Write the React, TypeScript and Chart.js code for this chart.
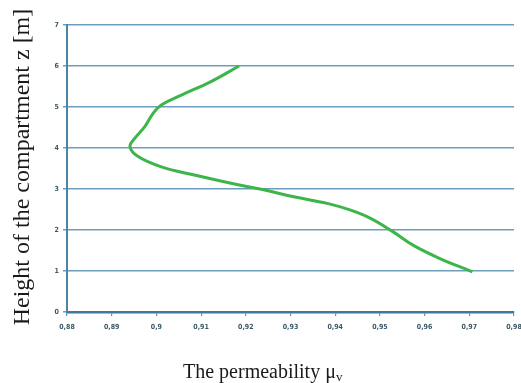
import React, { useEffect, useRef } from "react";
import { Chart, registerables } from "chart.js";

Chart.register(...registerables);

const heightZ = [6, 5.62, 5.29, 5.05, 4.85, 4.52, 4.24, 4.03, 3.79, 3.54, 3.34, 3.14, 2.98, 2.81, 2.65, 2.49, 2.29, 1.96, 1.63, 1.31, 0.98];
const permeability = [0.9185, 0.9122, 0.9056, 0.9011, 0.8993, 0.8974, 0.8952, 0.8941, 0.8959, 0.9011, 0.9085, 0.9167, 0.924, 0.9307, 0.9382, 0.9433, 0.9478, 0.9529, 0.9574, 0.9633, 0.9707];
const xMin = 0.88;
const xMax = 0.98;
const yMin = 0;
const yMax = 7;
const yTitle = "Height of the compartment z [m]";
const xTitleMain = "The permeability μ";
const xTitleSub = "v";

const W = 521;
const H = 383;

const titlesPlugin = {
  id: "titles",
  afterDraw(chart: any) {
    const ctx = chart.ctx;
    ctx.save();
    ctx.fillStyle = "#1a1a1a";
    ctx.font = "24px 'Liberation Serif', 'Times New Roman', serif";
    ctx.translate(23, 167);
    ctx.rotate(-Math.PI / 2);
    ctx.textAlign = "center";
    ctx.textBaseline = "middle";
    ctx.fillText(yTitle, 0, 0);
    ctx.restore();

    ctx.save();
    ctx.fillStyle = "#1a1a1a";
    ctx.font = "20px 'Liberation Serif', 'Times New Roman', serif";
    ctx.textBaseline = "alphabetic";
    const mainW = ctx.measureText(xTitleMain).width;
    const x0 = 183;
    ctx.textAlign = "left";
    ctx.fillText(xTitleMain, x0, 378);
    ctx.font = "13px 'Liberation Serif', 'Times New Roman', serif";
    ctx.fillText(xTitleSub, x0 + mainW, 381);
    ctx.restore();
  },
};

export default function App() {
  const ref = useRef<HTMLCanvasElement | null>(null);
  useEffect(() => {
    if (!ref.current) return;
    const chart = new Chart(ref.current, {
      type: "scatter",
      data: {
        datasets: [
          {
            data: heightZ.map((z, i) => ({ x: permeability[i], y: z })),
            showLine: true,
            borderColor: "#3cb54a",
            backgroundColor: "#3cb54a",
            borderWidth: 3,
            pointRadius: 0,
            tension: 0.4,
            fill: false,
          },
        ],
      },
      options: {
        animation: false,
        responsive: false,
        maintainAspectRatio: false,
        layout: { padding: { top: 25, right: 7, left: 0, bottom: 0 } },
        plugins: { legend: { display: false }, tooltip: { enabled: false } },
        scales: {
          x: {
            type: "linear",
            min: xMin,
            max: xMax,
            afterFit: (s: any) => {
              s.height = 71;
              s.paddingRight = 0;
              s.paddingLeft = 0;
            },
            ticks: {
              stepSize: 0.01,
              autoSkip: false,
              maxRotation: 0,
              padding: 7,
              color: "#3b5866",
              font: { family: "'Liberation Sans Narrow', 'DejaVu Sans Condensed', sans-serif", size: 7, weight: "bold" },
              callback: (v: any) => Number(v).toFixed(2).replace(/0$/, "").replace(".", ","),
            },
            grid: { drawOnChartArea: false, color: "#5f93b2", tickLength: 4, lineWidth: 1.2 },
            border: { color: "#3f7898", width: 2.5 },
          },
          y: {
            type: "linear",
            min: yMin,
            max: yMax,
            afterFit: (s: any) => {
              s.width = 67;
              s.paddingTop = 0;
              s.paddingBottom = 0;
            },
            ticks: {
              stepSize: 1,
              padding: 4,
              color: "#3b5866",
              font: { family: "'Liberation Sans Narrow', 'DejaVu Sans Condensed', sans-serif", size: 7, weight: "bold" },
            },
            grid: { color: "#6c9dbd", lineWidth: 1.5, tickLength: 4 },
            border: { color: "#4a86a8", width: 2 },
          },
        },
      },
      plugins: [titlesPlugin],
    });
    return () => chart.destroy();
  }, []);
  return (
    <div style={{ position: "fixed", left: 0, top: 0, width: W, height: H, background: "#fff" }}>
      <canvas ref={ref} width={W} height={H} style={{ width: W, height: H, display: "block" }} />
    </div>
  );
}
